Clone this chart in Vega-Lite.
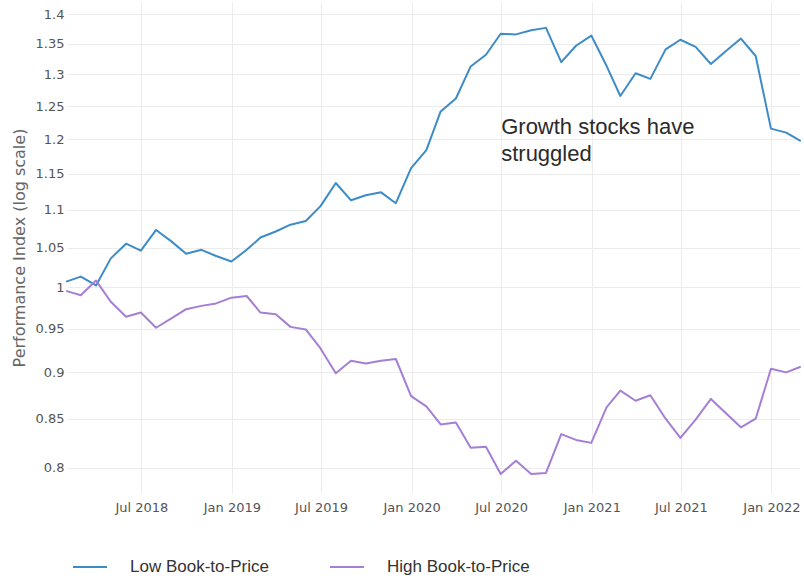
{
  "$schema": "https://vega.github.io/schema/vega-lite/v6.json",
  "width": 733,
  "height": 491,
  "autosize": {"type": "none"},
  "padding": {"left": 67, "top": 2, "right": 4, "bottom": 87},
  "background": "white",
  "config": {"view": {"stroke": null}, "font": "DejaVu Sans"},
  "data": {"values": [
    {"date": "2018-01-31", "series": "Low Book-to-Price", "value": 1.007},
    {"date": "2018-02-28", "series": "Low Book-to-Price", "value": 1.013},
    {"date": "2018-03-31", "series": "Low Book-to-Price", "value": 1.002},
    {"date": "2018-04-30", "series": "Low Book-to-Price", "value": 1.036},
    {"date": "2018-05-31", "series": "Low Book-to-Price", "value": 1.055},
    {"date": "2018-06-30", "series": "Low Book-to-Price", "value": 1.046},
    {"date": "2018-07-31", "series": "Low Book-to-Price", "value": 1.073},
    {"date": "2018-08-31", "series": "Low Book-to-Price", "value": 1.058},
    {"date": "2018-09-30", "series": "Low Book-to-Price", "value": 1.042},
    {"date": "2018-10-31", "series": "Low Book-to-Price", "value": 1.047},
    {"date": "2018-11-30", "series": "Low Book-to-Price", "value": 1.039},
    {"date": "2018-12-31", "series": "Low Book-to-Price", "value": 1.032},
    {"date": "2019-01-31", "series": "Low Book-to-Price", "value": 1.047},
    {"date": "2019-02-28", "series": "Low Book-to-Price", "value": 1.063},
    {"date": "2019-03-31", "series": "Low Book-to-Price", "value": 1.071},
    {"date": "2019-04-30", "series": "Low Book-to-Price", "value": 1.080},
    {"date": "2019-05-31", "series": "Low Book-to-Price", "value": 1.085},
    {"date": "2019-06-30", "series": "Low Book-to-Price", "value": 1.105},
    {"date": "2019-07-31", "series": "Low Book-to-Price", "value": 1.137},
    {"date": "2019-08-31", "series": "Low Book-to-Price", "value": 1.113},
    {"date": "2019-09-30", "series": "Low Book-to-Price", "value": 1.120},
    {"date": "2019-10-31", "series": "Low Book-to-Price", "value": 1.124},
    {"date": "2019-11-30", "series": "Low Book-to-Price", "value": 1.109},
    {"date": "2019-12-31", "series": "Low Book-to-Price", "value": 1.158},
    {"date": "2020-01-31", "series": "Low Book-to-Price", "value": 1.184},
    {"date": "2020-02-29", "series": "Low Book-to-Price", "value": 1.242},
    {"date": "2020-03-31", "series": "Low Book-to-Price", "value": 1.262},
    {"date": "2020-04-30", "series": "Low Book-to-Price", "value": 1.313},
    {"date": "2020-05-31", "series": "Low Book-to-Price", "value": 1.332},
    {"date": "2020-06-30", "series": "Low Book-to-Price", "value": 1.367},
    {"date": "2020-07-31", "series": "Low Book-to-Price", "value": 1.366},
    {"date": "2020-08-31", "series": "Low Book-to-Price", "value": 1.373},
    {"date": "2020-09-30", "series": "Low Book-to-Price", "value": 1.377},
    {"date": "2020-10-31", "series": "Low Book-to-Price", "value": 1.320},
    {"date": "2020-11-30", "series": "Low Book-to-Price", "value": 1.347},
    {"date": "2020-12-31", "series": "Low Book-to-Price", "value": 1.364},
    {"date": "2021-01-31", "series": "Low Book-to-Price", "value": 1.314},
    {"date": "2021-02-28", "series": "Low Book-to-Price", "value": 1.266},
    {"date": "2021-03-31", "series": "Low Book-to-Price", "value": 1.302},
    {"date": "2021-04-30", "series": "Low Book-to-Price", "value": 1.293},
    {"date": "2021-05-31", "series": "Low Book-to-Price", "value": 1.341},
    {"date": "2021-06-30", "series": "Low Book-to-Price", "value": 1.357},
    {"date": "2021-07-31", "series": "Low Book-to-Price", "value": 1.345},
    {"date": "2021-08-31", "series": "Low Book-to-Price", "value": 1.317},
    {"date": "2021-09-30", "series": "Low Book-to-Price", "value": 1.338},
    {"date": "2021-10-31", "series": "Low Book-to-Price", "value": 1.359},
    {"date": "2021-11-30", "series": "Low Book-to-Price", "value": 1.330},
    {"date": "2021-12-31", "series": "Low Book-to-Price", "value": 1.216},
    {"date": "2022-01-31", "series": "Low Book-to-Price", "value": 1.210},
    {"date": "2022-02-28", "series": "Low Book-to-Price", "value": 1.198},
    {"date": "2018-01-31", "series": "High Book-to-Price", "value": 0.995},
    {"date": "2018-02-28", "series": "High Book-to-Price", "value": 0.990},
    {"date": "2018-03-31", "series": "High Book-to-Price", "value": 1.008},
    {"date": "2018-04-30", "series": "High Book-to-Price", "value": 0.982},
    {"date": "2018-05-31", "series": "High Book-to-Price", "value": 0.964},
    {"date": "2018-06-30", "series": "High Book-to-Price", "value": 0.969},
    {"date": "2018-07-31", "series": "High Book-to-Price", "value": 0.951},
    {"date": "2018-08-31", "series": "High Book-to-Price", "value": 0.962},
    {"date": "2018-09-30", "series": "High Book-to-Price", "value": 0.973},
    {"date": "2018-10-31", "series": "High Book-to-Price", "value": 0.977},
    {"date": "2018-11-30", "series": "High Book-to-Price", "value": 0.980},
    {"date": "2018-12-31", "series": "High Book-to-Price", "value": 0.987},
    {"date": "2019-01-31", "series": "High Book-to-Price", "value": 0.989},
    {"date": "2019-02-28", "series": "High Book-to-Price", "value": 0.969},
    {"date": "2019-03-31", "series": "High Book-to-Price", "value": 0.967},
    {"date": "2019-04-30", "series": "High Book-to-Price", "value": 0.952},
    {"date": "2019-05-31", "series": "High Book-to-Price", "value": 0.949},
    {"date": "2019-06-30", "series": "High Book-to-Price", "value": 0.927},
    {"date": "2019-07-31", "series": "High Book-to-Price", "value": 0.899},
    {"date": "2019-08-31", "series": "High Book-to-Price", "value": 0.913},
    {"date": "2019-09-30", "series": "High Book-to-Price", "value": 0.910},
    {"date": "2019-10-31", "series": "High Book-to-Price", "value": 0.913},
    {"date": "2019-11-30", "series": "High Book-to-Price", "value": 0.915},
    {"date": "2019-12-31", "series": "High Book-to-Price", "value": 0.874},
    {"date": "2020-01-31", "series": "High Book-to-Price", "value": 0.863},
    {"date": "2020-02-29", "series": "High Book-to-Price", "value": 0.844},
    {"date": "2020-03-31", "series": "High Book-to-Price", "value": 0.846},
    {"date": "2020-04-30", "series": "High Book-to-Price", "value": 0.820},
    {"date": "2020-05-31", "series": "High Book-to-Price", "value": 0.821},
    {"date": "2020-06-30", "series": "High Book-to-Price", "value": 0.794},
    {"date": "2020-07-31", "series": "High Book-to-Price", "value": 0.807},
    {"date": "2020-08-31", "series": "High Book-to-Price", "value": 0.794},
    {"date": "2020-09-30", "series": "High Book-to-Price", "value": 0.795},
    {"date": "2020-10-31", "series": "High Book-to-Price", "value": 0.834},
    {"date": "2020-11-30", "series": "High Book-to-Price", "value": 0.828},
    {"date": "2020-12-31", "series": "High Book-to-Price", "value": 0.825},
    {"date": "2021-01-31", "series": "High Book-to-Price", "value": 0.862},
    {"date": "2021-02-28", "series": "High Book-to-Price", "value": 0.880},
    {"date": "2021-03-31", "series": "High Book-to-Price", "value": 0.869},
    {"date": "2021-04-30", "series": "High Book-to-Price", "value": 0.875},
    {"date": "2021-05-31", "series": "High Book-to-Price", "value": 0.850},
    {"date": "2021-06-30", "series": "High Book-to-Price", "value": 0.830},
    {"date": "2021-07-31", "series": "High Book-to-Price", "value": 0.849},
    {"date": "2021-08-31", "series": "High Book-to-Price", "value": 0.871},
    {"date": "2021-09-30", "series": "High Book-to-Price", "value": 0.856},
    {"date": "2021-10-31", "series": "High Book-to-Price", "value": 0.841},
    {"date": "2021-11-30", "series": "High Book-to-Price", "value": 0.850},
    {"date": "2021-12-31", "series": "High Book-to-Price", "value": 0.904},
    {"date": "2022-01-31", "series": "High Book-to-Price", "value": 0.900},
    {"date": "2022-02-28", "series": "High Book-to-Price", "value": 0.906}
  ]},
  "layer": [
    {
      "mark": {"type": "line", "strokeWidth": 2, "strokeJoin": "round", "strokeCap": "round"},
      "encoding": {
        "x": {
          "field": "date", "type": "temporal",
          "scale": {"type": "utc"},
          "axis": {
            "title": null,
            "labelExpr": "utcFormat(datum.value, '%b %Y')",
            "tickCount": {"interval": "month", "step": 6},
            "domain": false, "ticks": false, "labelFlush": false,
            "labelFont": "DejaVu Sans", "labelFontSize": 13, "labelColor": "#555555",
            "labelPadding": 8, "gridColor": "#ececec", "gridWidth": 1
          }
        },
        "y": {
          "field": "value", "type": "quantitative",
          "scale": {"type": "log", "domain": [0.7755, 1.4217], "nice": false, "zero": false},
          "axis": {
            "title": "Performance Index (log scale)",
            "values": [0.8, 0.85, 0.9, 0.95, 1, 1.05, 1.1, 1.15, 1.2, 1.25, 1.3, 1.35, 1.4],
            "format": "~g",
            "domain": false, "ticks": false,
            "labelFont": "DejaVu Sans", "labelFontSize": 13, "labelColor": "#555555", "labelPadding": 3,
            "titleFont": "DejaVu Sans", "titleFontSize": 16, "titleFontWeight": "normal", "titleColor": "#666666", "titlePadding": 8,
            "gridColor": "#ececec", "gridWidth": 1
          }
        },
        "color": {
          "field": "series", "type": "nominal",
          "scale": {"domain": ["Low Book-to-Price", "High Book-to-Price"], "range": ["#3D8CC8", "#A57FD4"]},
          "legend": {
            "title": null, "orient": "none", "legendX": 5, "legendY": 547, "direction": "horizontal",
            "symbolType": "stroke", "symbolSize": 1156, "symbolStrokeWidth": 2,
            "labelFont": "Liberation Sans", "labelFontSize": 17, "labelColor": "#333333",
            "labelOffset": 22, "columnPadding": 57, "padding": 0
          }
        }
      }
    },
    {
      "data": {"values": [{}]},
      "mark": {"type": "text", "align": "left", "baseline": "alphabetic", "font": "Liberation Sans", "fontSize": 22, "lineHeight": 27, "color": "#2b2b2b",
               "text": ["Growth stocks have", "struggled"]},
      "encoding": {
        "x": {"datum": {"year": 2020, "month": 7, "date": 1, "utc": true}, "type": "temporal"},
        "y": {"datum": 1.208, "type": "quantitative"}
      }
    }
  ]
}
